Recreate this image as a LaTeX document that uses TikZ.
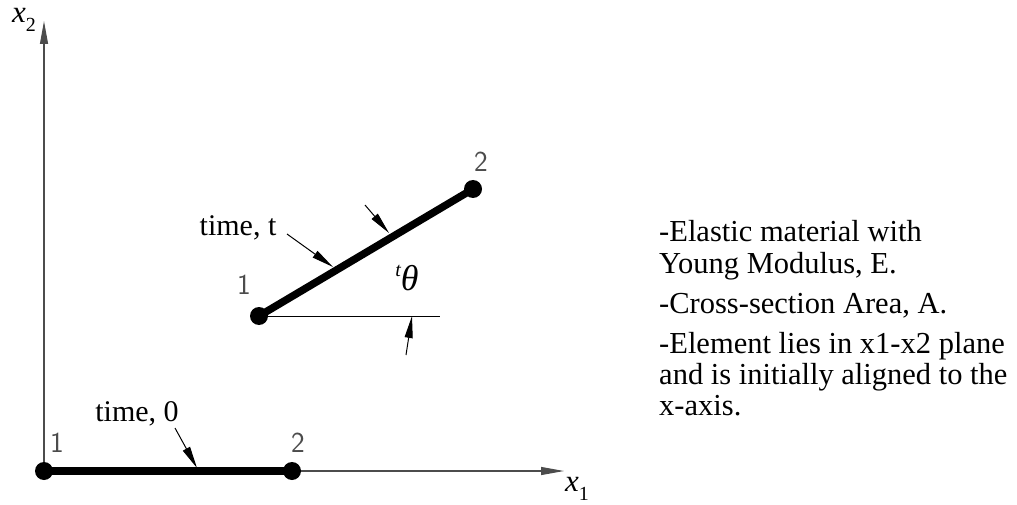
\documentclass[tikz,border=0pt]{standalone}
\usepackage{fontspec}
\setmainfont{Liberation Serif}
\usetikzlibrary{arrows.meta}
\begin{document}
\begin{tikzpicture}[x=1pt,y=-1pt,
  axis/.style={line width=1.1pt, draw=black!70, -{Triangle[length=23pt,width=8pt]}},
  elem/.style={line width=7.5pt},
  dot/.style={circle, fill=black, inner sep=0pt, minimum size=18pt},
  leader/.style={line width=1pt, -{Triangle[length=22pt,width=8pt]}},
  reftxt/.style={font=\fontsize{30}{33}\selectfont, inner sep=0pt},
  num/.style={font=\sffamily\fontsize{29}{29}\selectfont, inner sep=0pt, text=black!70},
  note/.style={font=\fontsize{30.5}{31.5}\selectfont, inner sep=0pt, anchor=base west}
]
\useasboundingbox (0,0) rectangle (1017,505);

% axes
\coordinate (O) at (44,471);
\coordinate (Ytip) at (44,21);
\coordinate (Xtip) at (564,471);
\draw[axis] (O) -- (Ytip);
\draw[axis] (O) -- (Xtip);
\node[reftxt, font=\fontsize{31}{31}\selectfont] (x2) at (24,20) {\textit{x}\raisebox{-0.28em}{\fontsize{20}{20}\selectfont 2}};
\node[reftxt, font=\fontsize{31}{31}\selectfont] (x1) at (577,489) {\textit{x}\raisebox{-0.28em}{\fontsize{20}{20}\selectfont 1}};

% initial element (time 0)
\node[dot] (a1) at (44,471) {};
\node[dot] (a2) at (292,471) {};
\draw[elem] (a1.center) -- (a2.center);
\node[num] (na1) at (57,443) {1};
\node[num] (na2) at (298,443) {2};
\node[reftxt, anchor=base] (t0) at (137,421) {time, 0};
\coordinate (t0s) at (175,428);
\coordinate (t0e) at (197,468);
\draw[leader] (t0s) -- (t0e);

% deformed element (time t)
\node[dot] (b1) at (259,316) {};
\node[dot] (b2) at (473,189) {};
\draw[elem] (b1.center) -- (b2.center);
\node[num] (nb1) at (244,285) {1};
\node[num] (nb2) at (481,162) {2};
\node[reftxt, anchor=base] (tt) at (238,235) {time, t};
\coordinate (tts) at (287,234);
\coordinate (tte) at (333,267);
\draw[leader] (tts) -- (tte);
\coordinate (ts2) at (365,205);
\coordinate (te2) at (389,233);
\draw[leader] (ts2) -- (te2);

% angle
\coordinate (href) at (440,316);
\draw[line width=1pt] (b1.center) -- (href);
\coordinate (as) at (406,355);
\coordinate (ae) at (412,316);
\draw[leader] (as) -- (ae);
\node[reftxt, anchor=base, font=\fontsize{36}{36}\selectfont] (th) at (407,290) {\textit{\raisebox{0.38em}{\fontsize{20}{20}\selectfont t}θ}};

% notes
\node[note] (n1a) at (659,241) {-Elastic material with};
\node[note] (n1b) at (659,273) {Young Modulus, E.};
\node[note] (n2)  at (659,313) {-Cross-section Area, A.};
\node[note] (n3a) at (659,353) {-Element lies in x1-x2 plane};
\node[note] (n3b) at (659,384) {and is initially aligned to the};
\node[note] (n3c) at (659,415) {x-axis.};
\end{tikzpicture}
\end{document}
